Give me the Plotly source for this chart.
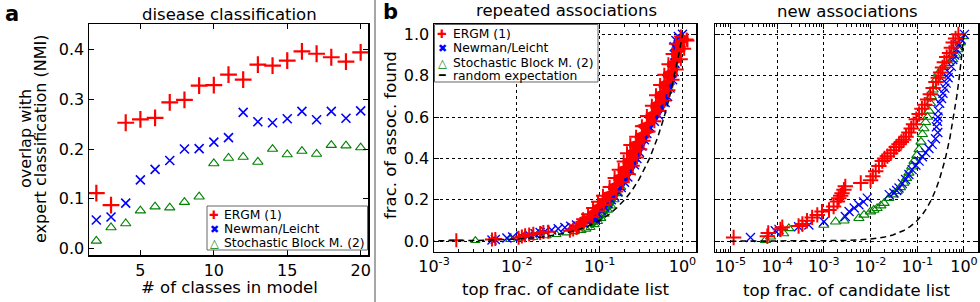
import plotly.graph_objects as go

W, H = 980, 302
FONT = "DejaVu Sans"

# ---------------- panel a: disease classification ----------------
n_classes = [2, 3, 4, 5, 6, 7, 8, 9, 10, 11, 12, 13, 14, 15, 16, 17, 18, 19, 20]
ergm_nmi = [0.111, 0.087, 0.253, 0.260, 0.263, 0.294, 0.299, 0.328, 0.329, 0.350,
            0.340, 0.370, 0.368, 0.378, 0.397, 0.392, 0.385, 0.376, 0.395]
newman_nmi = [0.057, 0.063, 0.091, 0.138, 0.159, 0.177, 0.200, 0.201, 0.214, 0.223,
              0.274, 0.255, 0.253, 0.261, 0.276, 0.259, 0.276, 0.262, 0.277]
sbm_nmi = [0.015, 0.042, 0.050, 0.076, 0.084, 0.082, 0.093, 0.104, 0.171, 0.182,
           0.184, 0.174, 0.200, 0.189, 0.196, 0.190, 0.208, 0.207, 0.203]
a_xticks = [5, 10, 15, 20]
a_yticks = [0.0, 0.1, 0.2, 0.3, 0.4]
a_yticklabels = ["0.0", "0.1", "0.2", "0.3", "0.4"]

# ---------------- panel b left: repeated associations ----------------
rep_ergm_x = [0.00186, 0.00501, 0.0055, 0.0105, 0.0115, 0.0126, 0.0141, 0.0158, 0.0191, 0.0209,
              0.024, 0.0437, 0.0479, 0.0525, 0.0562, 0.0603, 0.0646, 0.0631, 0.0813, 0.0724,
              0.0933, 0.0832, 0.1122, 0.0955, 0.1318, 0.1096, 0.1585, 0.1318, 0.1905, 0.1514,
              0.2239, 0.1698, 0.2512, 0.195, 0.2818, 0.2138, 0.309, 0.2344, 0.339, 0.2754,
              0.389, 0.3236, 0.457, 0.3715, 0.525, 0.4266, 0.603, 0.4786, 0.676, 0.537,
              0.759, 0.603, 0.851, 0.676, 0.955, 0.759, 1.047, 0.832, 1.122, 0.955, 1.148]
rep_ergm_y = [0.004, 0.008, 0.010, 0.016, 0.022, 0.028, 0.032, 0.036, 0.040, 0.044,
              0.046, 0.050, 0.056, 0.064, 0.074, 0.084, 0.095, 0.106, 0.118, 0.130,
              0.145, 0.160, 0.175, 0.190, 0.205, 0.220, 0.240, 0.262, 0.285, 0.305,
              0.325, 0.345, 0.365, 0.385, 0.405, 0.425, 0.445, 0.465, 0.485, 0.505,
              0.530, 0.555, 0.580, 0.605, 0.630, 0.655, 0.680, 0.705, 0.730, 0.755,
              0.780, 0.805, 0.830, 0.855, 0.880, 0.905, 0.930, 0.955, 0.975, 0.990, 0.970]

rep_newman_x = [0.00501, 0.0055, 0.00759, 0.00891, 0.0112, 0.0141, 0.0166, 0.0191, 0.0219, 0.0263,
                0.0316, 0.038, 0.0447, 0.0525, 0.0631, 0.0708, 0.0891, 0.0871, 0.0955, 0.1047,
                0.1148, 0.1259, 0.138, 0.1514, 0.166, 0.182, 0.1995, 0.2188, 0.2399, 0.263,
                0.2818, 0.302, 0.3236, 0.3467, 0.3715, 0.4074, 0.457, 0.513, 0.562, 0.617,
                0.661, 0.708, 0.759, 0.794, 0.813, 0.813, 0.794, 0.832, 0.891, 1.0]
rep_newman_y = [0.006, 0.008, 0.015, 0.020, 0.025, 0.030, 0.036, 0.042, 0.048, 0.054,
                0.060, 0.066, 0.072, 0.078, 0.086, 0.095, 0.105, 0.118, 0.132, 0.148,
                0.165, 0.182, 0.200, 0.218, 0.238, 0.260, 0.285, 0.310, 0.340, 0.370,
                0.400, 0.430, 0.460, 0.490, 0.520, 0.550, 0.580, 0.610, 0.640, 0.670,
                0.700, 0.740, 0.780, 0.820, 0.860, 0.900, 0.940, 0.970, 0.990, 1.000]

rep_sbm_x = [0.00316, 0.00832, 0.0112, 0.0158, 0.0229, 0.0302, 0.0398, 0.0501, 0.0603, 0.0692,
             0.0776, 0.0871, 0.0955, 0.1047, 0.1148, 0.1259, 0.138, 0.1514, 0.166, 0.182,
             0.1995, 0.2188, 0.2399, 0.263, 0.288, 0.316, 0.363, 0.437, 0.525, 0.603,
             0.676, 0.741, 0.794, 0.851, 0.912, 0.977]
rep_sbm_y = [0.003, 0.008, 0.012, 0.018, 0.026, 0.032, 0.040, 0.046, 0.052, 0.058,
             0.066, 0.080, 0.095, 0.110, 0.130, 0.150, 0.170, 0.200, 0.230, 0.260,
             0.300, 0.340, 0.380, 0.420, 0.460, 0.500, 0.550, 0.600, 0.650, 0.700,
             0.750, 0.800, 0.850, 0.900, 0.950, 0.990]

# ---------------- panel b right: new associations ----------------
new_ergm_x = [1.17e-5, 6.17e-5, 6.46e-5, 1.175e-4, 1.29e-4, 2.88e-4, 3.47e-4, 4.37e-4, 5.62e-4, 7.24e-4,
              9.12e-4, 1.29e-3, 1.62e-3, 1.95e-3, 2.09e-3, 2.29e-3, 2.45e-3, 2.69e-3, 2.88e-3, 6.17e-3,
              0.01, 0.0112, 0.0129, 0.0151, 0.0178, 0.02, 0.0229, 0.0269, 0.0316, 0.0355,
              0.0407, 0.0457, 0.0513, 0.0575, 0.0661, 0.0741, 0.0832, 0.0955, 0.1096, 0.1259,
              0.1445, 0.166, 0.1905, 0.2188, 0.2512, 0.2818, 0.316, 0.347, 0.38, 0.427,
              0.49, 0.537, 0.589, 0.661, 0.759]
new_ergm_y = [0.018, 0.024, 0.040, 0.057, 0.067, 0.073, 0.083, 0.099, 0.115, 0.127,
              0.143, 0.151, 0.167, 0.192, 0.208, 0.220, 0.232, 0.249, 0.265, 0.281,
              0.294, 0.314, 0.338, 0.363, 0.387, 0.400, 0.411, 0.425, 0.440, 0.455,
              0.468, 0.480, 0.490, 0.505, 0.525, 0.545, 0.565, 0.590, 0.615, 0.640,
              0.660, 0.685, 0.710, 0.740, 0.770, 0.790, 0.815, 0.840, 0.865, 0.890,
              0.910, 0.935, 0.960, 0.980, 1.000]

new_newman_x = [2.69e-5, 9.12e-5, 1.096e-4, 2.88e-4, 4.79e-4, 1.0e-3, 2.88e-3, 3.47e-3, 4.47e-3, 5.62e-3,
                7.08e-3, 8.51e-3, 0.0251, 0.0316, 0.0363, 0.0407, 0.0479, 0.0562, 0.0661, 0.0776,
                0.0933, 0.1096, 0.1288, 0.1514, 0.1778, 0.2089, 0.2455, 0.2754, 0.257, 0.269,
                0.2754, 0.2818, 0.302, 0.331, 0.355, 0.389, 0.417, 0.457, 0.49, 0.537,
                0.575, 0.631, 0.692, 0.776, 0.871, 1.023]
new_newman_y = [0.018, 0.050, 0.057, 0.070, 0.078, 0.094, 0.119, 0.143, 0.160, 0.176,
                0.190, 0.208, 0.225, 0.233, 0.245, 0.257, 0.278, 0.298, 0.322, 0.346,
                0.367, 0.387, 0.408, 0.428, 0.448, 0.468, 0.495, 0.525, 0.553, 0.580,
                0.600, 0.630, 0.667, 0.690, 0.715, 0.740, 0.764, 0.790, 0.813, 0.845,
                0.878, 0.900, 0.927, 0.950, 0.976, 1.000]

new_sbm_x = [5.62e-5, 7.24e-5, 1.38e-4, 1.78e-4, 1.0e-3, 1.78e-3, 2.69e-3, 5.62e-3, 7.24e-3, 0.01,
             0.01175, 0.0138, 0.0166, 0.0195, 0.0245, 0.0302, 0.0372, 0.0437, 0.0513, 0.0589,
             0.0661, 0.0759, 0.0851, 0.0977, 0.1096, 0.1202, 0.1288, 0.138, 0.1514, 0.166,
             0.178, 0.1905, 0.1995, 0.219, 0.251, 0.282, 0.355, 0.479, 0.575, 0.661,
             0.741, 0.832, 0.955]
new_sbm_y = [0.005, 0.021, 0.037, 0.062, 0.078, 0.094, 0.099, 0.111, 0.127, 0.143,
             0.151, 0.159, 0.172, 0.184, 0.208, 0.225, 0.241, 0.260, 0.281, 0.305,
             0.330, 0.360, 0.387, 0.415, 0.444, 0.480, 0.517, 0.545, 0.575, 0.600,
             0.630, 0.667, 0.700, 0.732, 0.780, 0.810, 0.840, 0.860, 0.878, 0.900,
             0.927, 0.960, 0.990]

random_x = [1e-5, 1e-4, 1e-3, 0.003, 0.01, 0.02, 0.03, 0.05, 0.07, 0.1, 0.13, 0.16, 0.2,
            0.25, 0.3, 0.35, 0.4, 0.5, 0.6, 0.7, 0.8, 0.9, 1.0]
random_y = [1e-5, 1e-4, 1e-3, 0.003, 0.01, 0.02, 0.03, 0.05, 0.07, 0.1, 0.13, 0.16, 0.2,
            0.25, 0.3, 0.35, 0.4, 0.5, 0.6, 0.7, 0.8, 0.9, 1.0]

b_yticks = [0.0, 0.2, 0.4, 0.6, 0.8, 1.0]
b_yticklabels = ["0.0", "0.2", "0.4", "0.6", "0.8", "1.0"]
left_xticks = [1e-3, 1e-2, 1e-1, 1.0]
left_xticklabels = ["10<sup>-3</sup>", "10<sup>-2</sup>", "10<sup>-1</sup>", "10<sup>0</sup>"]
right_xticks = [1e-5, 1e-4, 1e-3, 1e-2, 1e-1, 1.0]
right_xticklabels = ["10<sup>-5</sup>", "10<sup>-4</sup>", "10<sup>-3</sup>",
                     "10<sup>-2</sup>", "10<sup>-1</sup>", "10<sup>0</sup>"]

legend_names = ["ERGM (1)", "Newman/Leicht", "Stochastic Block M. (2)", "random expectation"]

RED, BLUE, GREEN = "#ff0000", "#0000ff", "#008000"


def px_x(p):
    return p / W


def px_y(p):
    return 1 - p / H


def mk(symbol, size, color, width):
    return dict(symbol=symbol, size=size, color=color, line=dict(color=color, width=width))


fig = go.Figure()

# ---- panel a traces
fig.add_trace(go.Scatter(x=n_classes, y=ergm_nmi, mode="markers", name=legend_names[0],
                         xaxis="x", yaxis="y", marker=mk("cross-thin-open", 12, RED, 2.2)))
fig.add_trace(go.Scatter(x=n_classes, y=newman_nmi, mode="markers", name=legend_names[1],
                         xaxis="x", yaxis="y", marker=mk("x-thin-open", 9, BLUE, 1.6)))
fig.add_trace(go.Scatter(x=n_classes, y=sbm_nmi, mode="markers", name=legend_names[2],
                         xaxis="x", yaxis="y", marker=mk("triangle-up-open", 9, GREEN, 1.1)))

# ---- panel b left traces (dense cores drawn as thick lines through the same values)
DENSE_SBM, DENSE_NEW, DENSE_ERGM = 10, 13, 14
fig.add_trace(go.Scatter(x=rep_sbm_x[DENSE_SBM:], y=rep_sbm_y[DENSE_SBM:], mode="lines",
                         xaxis="x2", yaxis="y2", hoverinfo="skip",
                         line=dict(color=GREEN, width=3)))
fig.add_trace(go.Scatter(x=rep_sbm_x, y=rep_sbm_y, mode="markers", name=legend_names[2],
                         xaxis="x2", yaxis="y2", marker=mk("triangle-up-open", 8, GREEN, 1.1)))
fig.add_trace(go.Scatter(x=rep_newman_x[DENSE_NEW:], y=rep_newman_y[DENSE_NEW:], mode="lines",
                         xaxis="x2", yaxis="y2", hoverinfo="skip",
                         line=dict(color=BLUE, width=4)))
fig.add_trace(go.Scatter(x=rep_newman_x, y=rep_newman_y, mode="markers", name=legend_names[1],
                         xaxis="x2", yaxis="y2", marker=mk("x-thin-open", 9, BLUE, 1.4)))
fig.add_trace(go.Scatter(x=rep_ergm_x[DENSE_ERGM:], y=rep_ergm_y[DENSE_ERGM:], mode="lines",
                         xaxis="x2", yaxis="y2", hoverinfo="skip",
                         line=dict(color=RED, width=6)))
fig.add_trace(go.Scatter(x=rep_ergm_x, y=rep_ergm_y, mode="markers", name=legend_names[0],
                         xaxis="x2", yaxis="y2", marker=mk("cross-thin-open", 10, RED, 2)))
fig.add_trace(go.Scatter(x=random_x, y=random_y, mode="lines", name=legend_names[3],
                         xaxis="x2", yaxis="y2",
                         line=dict(color="black", width=1.5, dash="6px,4px")))

# ---- panel b right traces
fig.add_trace(go.Scatter(x=new_sbm_x, y=new_sbm_y, mode="markers",
                         xaxis="x3", yaxis="y3", marker=mk("triangle-up-open", 9, GREEN, 1.1)))
fig.add_trace(go.Scatter(x=new_newman_x, y=new_newman_y, mode="markers",
                         xaxis="x3", yaxis="y3", marker=mk("x-thin-open", 9, BLUE, 1.3)))
fig.add_trace(go.Scatter(x=new_ergm_x, y=new_ergm_y, mode="markers",
                         xaxis="x3", yaxis="y3", marker=mk("cross-thin-open", 11, RED, 2)))
fig.add_trace(go.Scatter(x=random_x, y=random_y, mode="lines",
                         xaxis="x3", yaxis="y3",
                         line=dict(color="black", width=1.5, dash="6px,4px")))

tickfont = dict(family=FONT, size=16, color="black")
base_axis = dict(showline=True, linecolor="black", linewidth=1.5, mirror="ticks",
                 ticks="inside", ticklen=5, tickwidth=1, tickcolor="black",
                 zeroline=False, tickfont=tickfont, fixedrange=True, automargin=False)

minor_vals = [m * 10.0 ** e for e in range(-6, 1) for m in range(2, 10)]
grid_style = dict(showgrid=True, gridcolor="black", gridwidth=1, griddash="dot")
minor_style = dict(ticks="inside", ticklen=2.5, tickcolor="black",
                   tickmode="array", tickvals=minor_vals, showgrid=False)

fig.update_layout(
    width=W, height=H,
    margin=dict(l=0, r=0, t=0, b=0, pad=0),
    paper_bgcolor="white", plot_bgcolor="white",
    font=dict(family=FONT, color="black"),
    showlegend=False,
    xaxis=dict(base_axis, domain=[px_x(89), px_x(368)], range=[1.5, 20.5],
               tickmode="array", tickvals=a_xticks, showgrid=False, anchor="y"),
    yaxis=dict(base_axis, domain=[px_y(255), px_y(24)], range=[-0.0135, 0.452],
               tickmode="array", tickvals=a_yticks, ticktext=a_yticklabels,
               showgrid=False, anchor="x"),
    xaxis2=dict(base_axis, **grid_style, type="log", domain=[px_x(434), px_x(696)],
                range=[-3.0, 0.163], tickmode="array", tickvals=left_xticks,
                ticktext=left_xticklabels, anchor="y2", minor=minor_style),
    yaxis2=dict(base_axis, **grid_style, domain=[px_y(251.5), px_y(24)], range=[-0.05, 1.05],
                tickmode="array", tickvals=b_yticks, ticktext=b_yticklabels, anchor="x2"),
    xaxis3=dict(base_axis, **grid_style, type="log", domain=[px_x(715), px_x(978)],
                range=[-5.33, 0.30], tickmode="array", tickvals=right_xticks,
                ticktext=right_xticklabels, anchor="y3", minor=minor_style),
    yaxis3=dict(base_axis, **grid_style, domain=[px_y(251.5), px_y(24)], range=[-0.05, 1.05],
                tickmode="array", tickvals=b_yticks, showticklabels=False,
                matches="y2", anchor="x3"),
)

ann = []


def label(text, x, y, size=16.5, angle=0, bold=False, xanchor="center", color="black"):
    ann.append(dict(text=("<b>%s</b>" % text) if bold else text, x=px_x(x), y=px_y(y),
                    xref="paper", yref="paper", showarrow=False, textangle=angle,
                    xanchor=xanchor, yanchor="middle", borderpad=0,
                    font=dict(family=FONT, size=size, color=color)))


label("disease classification", 229, 14, size=16.5)
label("repeated associations", 566, 11, size=16.5)
label("new associations", 847, 12, size=16.5)
label("# of classes in model", 229, 287, size=16.5)
label("top frac. of candidate list", 566, 289, size=16.5)
label("top frac. of candidate list", 847, 290, size=16.5)
label("overlap with", 25, 139, size=16, angle=-90)
label("expert classification (NMI)", 40, 139, size=16, angle=-90)
label("frac. of assoc. found", 391, 135, size=16.5, angle=-90)
label("a", 12, 14, size=21, bold=True)
label("b", 390, 12, size=21, bold=True)

# ---- legends (box + symbol glyphs + names)
shapes = [
    dict(type="line", xref="paper", yref="paper", x0=px_x(375), x1=px_x(375),
         y0=0, y1=1, line=dict(color="#888888", width=1.5)),
    dict(type="rect", xref="paper", yref="paper", x0=px_x(207), x1=px_x(367.5),
         y0=px_y(250), y1=px_y(206), fillcolor="white", line=dict(color="#666666", width=1),
         layer="above"),
    dict(type="rect", xref="paper", yref="paper", x0=px_x(434.5), x1=px_x(598),
         y0=px_y(82), y1=px_y(24.5), fillcolor="white", line=dict(color="#666666", width=1),
         layer="above"),
]
fig.update_layout(shapes=shapes)

sym_glyphs = ["✚", "✖", "<b>△</b>", "━"]
sym_colors = [RED, BLUE, GREEN, "black"]
sym_sizes = [11.5, 11, 11.5, 11]

# panel a legend (three entries)
for i, yy in enumerate([215, 229, 243]):
    label(sym_glyphs[i], 214, yy, size=sym_sizes[i], color=sym_colors[i])
    label(legend_names[i], 223, yy, size=12.3, xanchor="left")
# panel b legend (four entries)
for i, yy in enumerate([34, 48.5, 62.5, 75.5]):
    label(sym_glyphs[i], 442, yy, size=sym_sizes[i], color=sym_colors[i])
    label(legend_names[i], 452, yy, size=12.3, xanchor="left")

fig.update_layout(annotations=ann)

fig.write_html("out.html", config={"displayModeBar": False, "staticPlot": True},
               post_script="document.body.style.margin='0';document.body.style.padding='0';")
